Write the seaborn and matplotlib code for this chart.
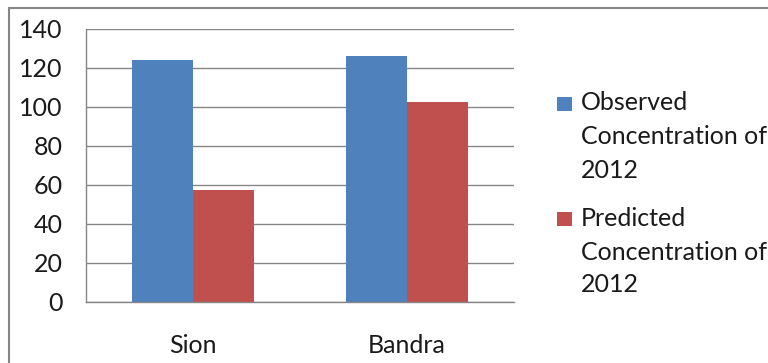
import matplotlib
matplotlib.use("Agg")
import matplotlib.pyplot as plt
import seaborn as sns
import pandas as pd
from matplotlib.patches import Rectangle

locations = ["Sion", "Bandra"]
series = ["Observed\nConcentration of\n2012", "Predicted\nConcentration of\n2012"]
observed = [124, 126]
predicted = [57.5, 102.5]
yticks = [0, 20, 40, 60, 80, 100, 120, 140]
colors = ["#4F81BD", "#C0504D"]

df = pd.DataFrame({
    "location": locations * 2,
    "series": [series[0]] * 2 + [series[1]] * 2,
    "value": observed + predicted,
})

sns.set_style("white")
plt.rcParams["font.family"] = ["Lato", "DejaVu Sans"]

W, H = 768, 363
FS = 18
TXT = "#1a1a1a"
fig = plt.figure(figsize=(W / 100, H / 100), dpi=100)
ax = fig.add_axes([86 / W, 1 - 301.7 / H, (514 - 86) / W, (301.7 - 29) / H])

palette = dict(zip(series, colors))
sns.barplot(data=df, x="location", y="value", hue="series", order=locations,
            hue_order=series, palette=palette, width=0.57, gap=0, saturation=1,
            edgecolor="none", linewidth=0, ax=ax, legend=False)

ax.set_ylim(0, 140)
ax.set_xlim(-0.5, 1.5)
ax.set_yticks(yticks)
ax.set_yticklabels([str(t) for t in yticks])
ax.yaxis.grid(True, color="#868686", linewidth=1)
ax.set_axisbelow(True)
ax.set_xlabel("")
ax.set_ylabel("")
for s in ["top", "right"]:
    ax.spines[s].set_visible(False)
for s in ["left", "bottom"]:
    ax.spines[s].set_color("#868686")
    ax.spines[s].set_linewidth(1)
ax.tick_params(axis="y", length=0, pad=17, labelsize=FS, labelcolor=TXT)
ax.tick_params(axis="x", length=0, pad=23, labelsize=FS, labelcolor=TXT)

# legend (figure text + colour swatches)
line_y = [[103, 137, 170], [218, 252, 285]]
for label, color, ys in zip(series, colors, line_y):
    swatch_top = ys[0] - 6
    fig.patches.append(Rectangle((557 / W, 1 - (swatch_top + 14) / H), 15 / W, 14 / H,
                                 transform=fig.transFigure,
                                 facecolor=color, edgecolor="none"))
    for line, y in zip(label.split("\n"), ys):
        fig.text(581 / W, 1 - y / H, line, fontsize=FS, color=TXT, va="center", ha="left")

# outer chart frame
fig.patches.append(Rectangle((9 / W, -0.2), 1.2, 1.2 - 7.5 / H,
                             transform=fig.transFigure, fill=False,
                             edgecolor="#868686", linewidth=1.5))

fig.savefig("out.png", dpi=100)
